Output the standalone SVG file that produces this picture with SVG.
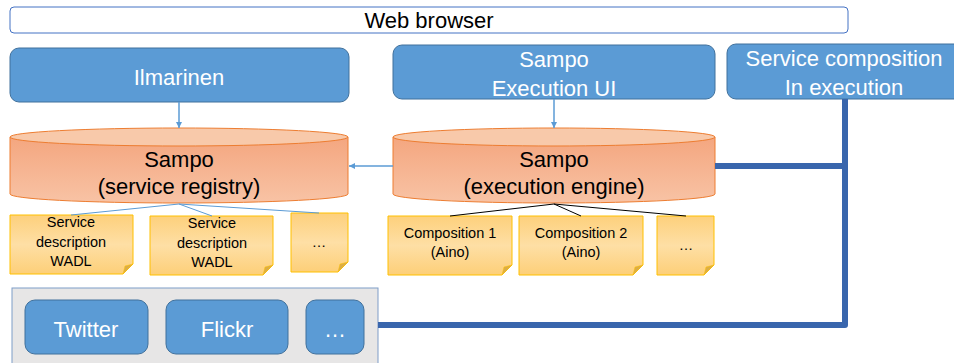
<svg xmlns="http://www.w3.org/2000/svg" width="954" height="363" viewBox="0 0 954 363">
<defs>
<linearGradient id="cyl" x1="0" y1="0" x2="0" y2="1">
<stop offset="0" stop-color="#f4a67f"/>
<stop offset="1" stop-color="#f8c3a5"/>
</linearGradient>
<linearGradient id="note" x1="0" y1="0" x2="0" y2="1">
<stop offset="0" stop-color="#fdd07c"/>
<stop offset="0.5" stop-color="#fedfa5"/>
<stop offset="1" stop-color="#fdcf78"/>
</linearGradient>
<marker id="arr" viewBox="0 0 10 10" refX="10" refY="5" markerWidth="6" markerHeight="6" orient="auto" markerUnits="userSpaceOnUse">
<path d="M0,0 L10,5 L0,10 Z" fill="#5b9bd5"/>
</marker>
</defs>
<style>
.box{fill:#5b9bd5;stroke:#41719c;stroke-width:1}
.wt{fill:#ffffff;font-family:"Liberation Sans",Arial,sans-serif;font-size:22px;text-anchor:middle}
.bt{fill:#000000;font-family:"Liberation Sans",Arial,sans-serif;font-size:22px;text-anchor:middle}
.nt{fill:#000000;font-family:"Liberation Sans",Arial,sans-serif;font-size:14.5px;text-anchor:middle}
.cyl{fill:url(#cyl);stroke:#ed7d31;stroke-width:1}
.cyltop{fill:#f8c9aa;stroke:#ed7d31;stroke-width:1}
.note{fill:url(#note);stroke:#ffc000;stroke-width:1}
.fold{fill:#dcae45;stroke:#ffc000;stroke-width:0.5}
.thin{stroke:#5b9bd5;stroke-width:1.5;fill:none}
.thick{stroke:#3966ad;stroke-width:6;fill:none;stroke-linejoin:round}
</style>

<g id="web-browser">
<rect x="10" y="7" width="838" height="26" rx="4" fill="#ffffff" stroke="#4472c4" stroke-width="1"/>
<text class="bt" x="429" y="28">Web browser</text>
</g>

<g id="ilmarinen">
<rect class="box" x="10" y="48" width="339" height="54" rx="9"/>
<text class="wt" x="179" y="85">Ilmarinen</text>
</g>

<g id="execution-ui">
<rect class="box" x="393" y="45" width="322" height="54" rx="9"/>
<text class="wt" x="554" y="67">Sampo</text>
<text class="wt" x="554" y="96">Execution UI</text>
</g>

<g id="service-composition">
<rect class="box" x="727" y="44" width="240" height="55" rx="9"/>
<text class="wt" x="844" y="66">Service composition</text>
<text class="wt" x="844" y="95">In execution</text>
</g>

<g id="service-registry">
<path class="cyl" d="M10,137 V194 A169,9 0 0 0 348,194 V137 Z"/>
<ellipse class="cyltop" cx="179" cy="137" rx="169" ry="9"/>
<text class="bt" x="179" y="167">Sampo</text>
<text class="bt" x="179" y="194">(service registry)</text>
</g>

<g id="execution-engine">
<path class="cyl" d="M393,137 V194 A161,9 0 0 0 715,194 V137 Z"/>
<ellipse class="cyltop" cx="554" cy="137" rx="161" ry="9"/>
<text class="bt" x="554" y="167">Sampo</text>
<text class="bt" x="554" y="194">(execution engine)</text>
</g>

<g id="note-wadl-1">
<path class="note" d="M10,215 H133 V264 L123,274 H10 Z"/>
<path class="fold" d="M123,274 L125,266 L133,264 Z"/>
<text class="nt" x="71" y="227">Service</text>
<text class="nt" x="71" y="247">description</text>
<text class="nt" x="71" y="266">WADL</text>
</g>

<g id="note-wadl-2">
<path class="note" d="M150,216 H273 V265 L263,275 H150 Z"/>
<path class="fold" d="M263,275 L265,267 L273,265 Z"/>
<text class="nt" x="212" y="228">Service</text>
<text class="nt" x="212" y="248">description</text>
<text class="nt" x="212" y="267">WADL</text>
</g>

<g id="note-wadl-more">
<path class="note" d="M291,213 H348 V262 L338,272 H291 Z"/>
<path class="fold" d="M338,272 L340,264 L348,262 Z"/>
<text class="nt" x="319" y="247">…</text>
</g>

<g id="note-comp-1">
<path class="note" d="M388,216 H512 V265 L502,275 H388 Z"/>
<path class="fold" d="M502,275 L504,267 L512,265 Z"/>
<text class="nt" x="450" y="238">Composition 1</text>
<text class="nt" x="450" y="257">(Aino)</text>
</g>

<g id="note-comp-2">
<path class="note" d="M519,216 H643 V265 L633,275 H519 Z"/>
<path class="fold" d="M633,275 L635,267 L643,265 Z"/>
<text class="nt" x="581" y="238">Composition 2</text>
<text class="nt" x="581" y="257">(Aino)</text>
</g>

<g id="note-comp-more">
<path class="note" d="M657,216 H714 V265 L704,275 H657 Z"/>
<path class="fold" d="M704,275 L706,267 L714,265 Z"/>
<text class="nt" x="686" y="250">…</text>
</g>

<g id="services">
<rect x="12" y="288" width="366" height="90" fill="#e7e6e6" stroke="#7f9dc8" stroke-width="1"/>
<g id="twitter">
<rect class="box" x="25" y="300" width="123" height="54" rx="10"/>
<text class="wt" x="86" y="337">Twitter</text>
</g>
<g id="flickr">
<rect class="box" x="166" y="300" width="122" height="54" rx="10"/>
<text class="wt" x="227" y="337">Flickr</text>
</g>
<g id="service-more">
<rect class="box" x="306" y="300" width="58" height="54" rx="10"/>
<text class="wt" x="335" y="337">…</text>
</g>
</g>

<g id="connectors">
<line class="thin" x1="179" y1="102" x2="179" y2="128" marker-end="url(#arr)"/>
<line class="thin" x1="554" y1="99" x2="554" y2="128" marker-end="url(#arr)"/>
<line class="thin" x1="393" y1="166" x2="349" y2="166" marker-end="url(#arr)"/>
<g stroke="#5b9bd5" stroke-width="1" fill="none">
<line x1="179" y1="204" x2="71" y2="215"/>
<line x1="179" y1="204" x2="212" y2="216"/>
<line x1="179" y1="204" x2="319" y2="213"/>
</g>
<g stroke="#000000" stroke-width="1" fill="none">
<line x1="554" y1="204" x2="450" y2="216"/>
<line x1="554" y1="204" x2="581" y2="216"/>
<line x1="554" y1="204" x2="686" y2="216"/>
</g>
<path class="thick" d="M715,166 H845"/>
<path class="thick" d="M845,99 V325 H378"/>
</g>
</svg>
